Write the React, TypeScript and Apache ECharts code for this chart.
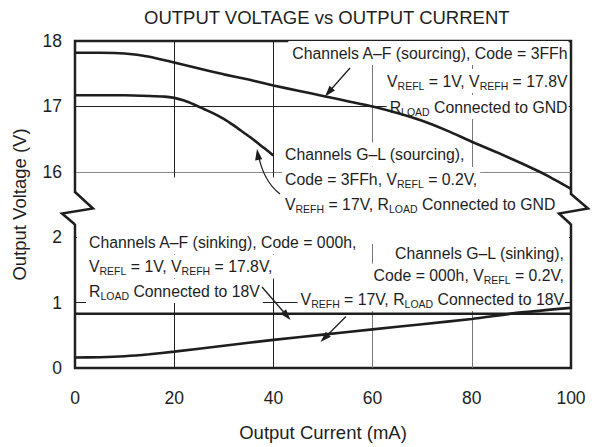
import React, { useEffect, useRef } from 'react';
import * as echarts from 'echarts';

const TITLE = 'OUTPUT VOLTAGE vs OUTPUT CURRENT';
const X_NAME = 'Output Current (mA)';
const Y_NAME = 'Output Voltage (V)';

// Output current (mA) and output voltage (V)
const AF_SOURCE_X = [0, 5, 10, 15, 20, 25, 30, 35, 40, 45, 50, 55, 60, 65, 70, 75, 80, 85, 90, 95, 100];
const AF_SOURCE_V = [17.82, 17.82, 17.81, 17.76, 17.67, 17.58, 17.49, 17.41, 17.32, 17.24, 17.16, 17.08, 17.0, 16.9, 16.78, 16.63, 16.46, 16.3, 16.13, 15.95, 15.74];

const GL_SOURCE_X = [0, 5, 10, 15, 18, 20, 22, 24, 26, 28, 30, 32, 34, 36, 38, 40];
const GL_SOURCE_V = [17.17, 17.17, 17.17, 17.16, 17.15, 17.13, 17.09, 17.03, 16.96, 16.89, 16.81, 16.71, 16.6, 16.49, 16.37, 16.25];

const AF_SINK_X = [0, 20, 40, 60, 80, 100];
const AF_SINK_V = [0.83, 0.83, 0.83, 0.83, 0.83, 0.83];

const GL_SINK_X = [0, 5, 10, 15, 20, 30, 40, 50, 60, 70, 80, 90, 100];
const GL_SINK_V = [0.16, 0.165, 0.18, 0.21, 0.25, 0.34, 0.43, 0.51, 0.59, 0.67, 0.75, 0.85, 0.92];

// Broken y axis: lower band 0..2 V, upper band 16..18 V drawn BREAK_SHIFT lower
const Y_TICKS = ['0', '1', '2', '16', '17', '18'];
const BREAK_SHIFT = 13;
const X_TICKS = [0, 20, 40, 60, 80, 100];

const NOTES = [
  { x: 568.5, y: 53, align: 'right', t: 'Channels A–F (sourcing), Code = 3FFh' },
  { x: 568.5, y: 81, align: 'right', t: 'V_{REFL} = 1V, V_{REFH} = 17.8V' },
  { x: 568.5, y: 107, align: 'right', t: 'R_{LOAD} Connected to GND' },
  { x: 282, y: 154.5, align: 'left', t: 'Channels G–L (sourcing),' },
  { x: 282, y: 179, align: 'left', t: 'Code = 3FFh, V_{REFL} = 0.2V,' },
  { x: 282, y: 204.5, align: 'left', t: 'V_{REFH} = 17V, R_{LOAD} Connected to GND' },
  { x: 86, y: 242, align: 'left', t: 'Channels A–F (sinking), Code = 000h,' },
  { x: 86, y: 266.5, align: 'left', t: 'V_{REFL} = 1V, V_{REFH} = 17.8V,' },
  { x: 86, y: 291, align: 'left', t: 'R_{LOAD} Connected to 18V' },
  { x: 565, y: 253, align: 'right', t: 'Channels G–L (sinking),' },
  { x: 565, y: 275.5, align: 'right', t: 'Code = 000h, V_{REFL} = 0.2V,' },
  { x: 565, y: 299, align: 'right', t: 'V_{REFH} = 17V, R_{LOAD} Connected to 18V' },
];

const FONT = '"Liberation Sans", Arial, Helvetica, sans-serif';
const INK = '#1e1e1e';

function richText(s: string) {
  return '{n|' + s.replace(/_\{([^}]*)\}/g, '}{s|$1}{n|') + '}';
}

function head(tx: number, ty: number, fx: number, fy: number, len = 11, half = 3.6) {
  const dx = tx - fx, dy = ty - fy;
  const L = Math.hypot(dx, dy);
  const ux = dx / L, uy = dy / L;
  const bx = tx - ux * len, by = ty - uy * len;
  return [[tx, ty], [bx - uy * half, by + ux * half], [bx + uy * half, by - ux * half]];
}

function pairs(xs: number[], vs: number[], shift = 0) {
  return xs.map((x, i) => [x, +(vs[i] - shift).toFixed(4)]);
}

export default function App() {
  const ref = useRef<HTMLDivElement>(null);
  useEffect(() => {
    if (!ref.current) return;
    const chart = echarts.init(ref.current, undefined, { renderer: 'svg' });
    const lineStyle = { color: INK, width: 2.6 };
    const mkSeries = (name: string, data: number[][]) => ({
      name, type: 'line', data, symbol: 'none', smooth: 0.2, z: 2,
      lineStyle, clip: false, silent: true,
    });

    const notes = NOTES.map((n) => ({
      type: 'text', x: n.x, y: n.y, z: 1,
      style: {
        text: richText(n.t), align: n.align, verticalAlign: 'middle',
        backgroundColor: '#fff', padding: n.align === 'right' ? [2, 1, 2, 3] : [2, 3, 2, 3],
        rich: {
          n: { fontSize: 15.8, fontFamily: FONT, fill: INK, color: INK, lineHeight: 20 },
          s: { fontSize: 10.5, fontFamily: FONT, fill: INK, color: INK, lineHeight: 8, verticalAlign: 'bottom' },
        },
      },
    }));

    const arrowStyle = { stroke: INK, lineWidth: 1.3 };
    const arrows: any[] = [
      { type: 'line', z: 3, shape: { x1: 350, y1: 68, x2: 327, y2: 94 }, style: arrowStyle },
      { type: 'polygon', z: 3, shape: { points: head(325, 96.5, 350, 68) }, style: { fill: INK } },
      { type: 'bezierCurve', z: 3, shape: { x1: 280, y1: 194, cpx1: 263, cpy1: 181, x2: 258, y2: 153 }, style: arrowStyle },
      { type: 'polygon', z: 3, shape: { points: head(257, 149, 259, 162) }, style: { fill: INK } },
      { type: 'line', z: 3, shape: { x1: 262, y1: 287, x2: 288, y2: 317 }, style: arrowStyle },
      { type: 'polygon', z: 3, shape: { points: head(290.5, 320, 262, 287) }, style: { fill: INK } },
      { type: 'line', z: 3, shape: { x1: 346, y1: 316.5, x2: 323, y2: 339.5 }, style: arrowStyle },
      { type: 'polygon', z: 3, shape: { points: head(320.5, 342, 346, 316.5) }, style: { fill: INK } },
    ];

    const breakEls: any[] = [
      { type: 'rect', z: 1, shape: { x: 77, y: 177.5, width: 492, height: 63 }, style: { fill: '#fff' } },
      { type: 'rect', z: 1, shape: { x: 82, y: 240, width: 482, height: 4 }, style: { fill: '#fff' } },
      { type: 'rect', z: 1, shape: { x: 70, y: 193, width: 10, height: 31 }, style: { fill: '#fff' } },
      { type: 'rect', z: 1, shape: { x: 566, y: 195, width: 10, height: 29 }, style: { fill: '#fff' } },
      { type: 'polyline', z: 3, shape: { points: [[75, 192], [93, 208.5], [62, 213.5], [75, 224.5]] }, style: { stroke: INK, lineWidth: 2.5 } },
      { type: 'polyline', z: 3, shape: { points: [[571, 194], [588, 208.5], [559, 213.5], [571, 224.5]] }, style: { stroke: INK, lineWidth: 2.5 } },
    ];

    chart.setOption({
      animation: false,
      backgroundColor: '#fff',
      textStyle: { fontFamily: FONT },
      title: {
        text: TITLE, left: 144, top: 8, padding: 0,
        textStyle: { fontSize: 18.5, fontWeight: 'normal', color: INK, fontFamily: FONT },
      },
      grid: {
        left: 75, right: 29, top: 41, bottom: 71, show: true,
        borderColor: INK, borderWidth: 2.5, backgroundColor: 'transparent',
      },
      xAxis: {
        type: 'value', min: 0, max: 100, interval: 20,
        axisLine: { show: false }, axisTick: { show: false },
        axisLabel: { fontSize: 17.5, color: INK, margin: 21, fontFamily: FONT, formatter: (v: number) => String(X_TICKS[X_TICKS.indexOf(v)]) },
        splitLine: { show: true, lineStyle: { color: ['#222', '#222', '#222', '#777', '#777', '#222'], width: 1 } },
        name: X_NAME, nameLocation: 'middle', nameGap: 55,
        nameTextStyle: { fontSize: 18.5, color: INK, fontFamily: FONT },
      },
      yAxis: {
        type: 'value', min: 0, max: 5, interval: 1,
        axisLine: { show: false }, axisTick: { show: false },
        axisLabel: { fontSize: 17.5, color: INK, margin: 13, fontFamily: FONT, formatter: (v: number) => Y_TICKS[Math.round(v)] },
        splitLine: { show: true, lineStyle: { color: ['#222', '#222', '#222', '#888', '#222', '#222'], width: 1 } },
        name: Y_NAME, nameLocation: 'middle', nameGap: 46,
        nameTextStyle: { fontSize: 18.5, color: INK, fontFamily: FONT },
      },
      series: [
        mkSeries('Channels A–F (sourcing)', pairs(AF_SOURCE_X, AF_SOURCE_V, BREAK_SHIFT)),
        mkSeries('Channels G–L (sourcing)', pairs(GL_SOURCE_X, GL_SOURCE_V, BREAK_SHIFT)),
        mkSeries('Channels A–F (sinking)', pairs(AF_SINK_X, AF_SINK_V)),
        mkSeries('Channels G–L (sinking)', pairs(GL_SINK_X, GL_SINK_V)),
      ],
      graphic: { elements: [...breakEls, ...notes, ...arrows] },
    });
    return () => chart.dispose();
  }, []);
  return <div ref={ref} style={{ position: 'fixed', left: 0, top: 0, width: 600, height: 447, background: '#fff' }} />;
}
